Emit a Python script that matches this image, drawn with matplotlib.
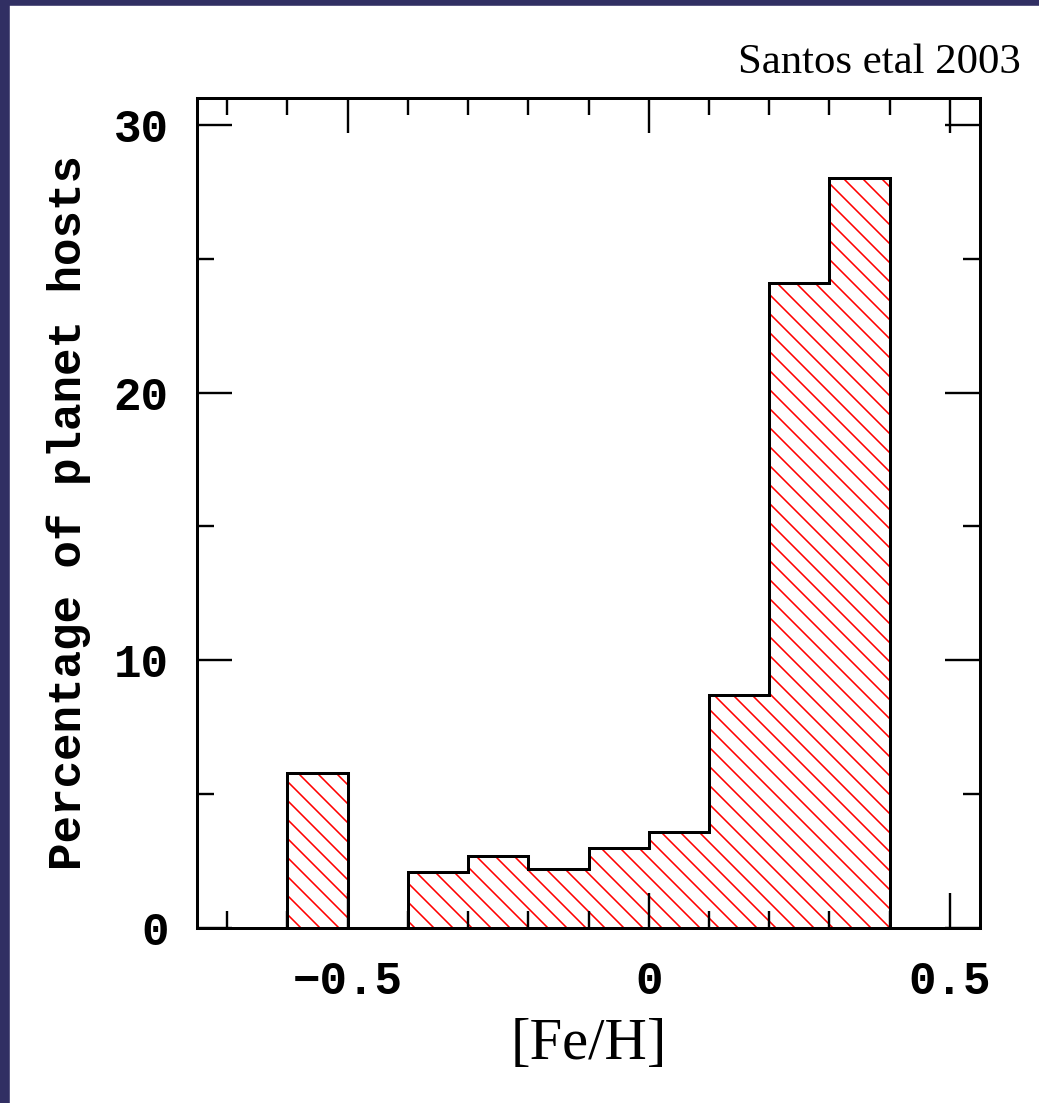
import matplotlib
matplotlib.use("Agg")
import matplotlib.pyplot as plt
from matplotlib.patches import Rectangle
from matplotlib.ticker import MultipleLocator

# histogram of planet host metallicities (Santos et al 2003)
bin_edges = [-0.6, -0.5, -0.4, -0.3, -0.2, -0.1, 0.0, 0.1, 0.2, 0.3, 0.4]
percent = [5.8, 0.0, 2.1, 2.7, 2.2, 3.0, 3.6, 8.7, 24.1, 28.0]

x_ticks = [-0.5, 0, 0.5]
x_ticklabels = ["\u22120.5", "0", "0.5"]
y_ticks = [0, 10, 20, 30]

dpi = 114
fig = plt.figure(figsize=(1039 / dpi, 1103 / dpi), dpi=dpi)
plt.rcParams["hatch.linewidth"] = 1.0

# dark frame on the left and top edge
navy = "#312f63"
fig.patches.append(Rectangle((0, 0), 9 / 1039, 1, transform=fig.transFigure,
                             color=navy, zorder=-10))
fig.patches.append(Rectangle((0, 1 - 5 / 1103), 1, 5 / 1103, transform=fig.transFigure,
                             color=navy, zorder=-10))

ax = fig.add_axes([197 / 1039, 175 / 1103, 783 / 1039, 830 / 1103])

ax.stairs(percent, bin_edges, baseline=0, fill=True, facecolor="none",
          edgecolor="red", hatch="\\\\", linewidth=0)
ax.stairs(percent, bin_edges, baseline=0, color="black", linewidth=1.9)

ax.set_xlim(-0.75, 0.55)
ax.set_ylim(0, 31)

ax.set_xticks(x_ticks)
ax.set_xticklabels(x_ticklabels)
ax.xaxis.set_minor_locator(MultipleLocator(0.1))
ax.set_yticks(y_ticks)
ax.yaxis.set_minor_locator(MultipleLocator(5))

ax.tick_params(which="both", direction="in", top=True, right=True, width=1.5,
               color="black")
ax.tick_params(which="major", length=22)
ax.tick_params(which="minor", length=11)
ax.tick_params(axis="x", which="major", pad=20)
ax.tick_params(axis="y", which="major", pad=18)
for sp in ax.spines.values():
    sp.set_linewidth(1.9)

mono = dict(family="Liberation Mono", weight="bold", size=29)
for lab in ax.get_xticklabels() + ax.get_yticklabels():
    lab.set_fontfamily("Liberation Mono")
    lab.set_fontweight("bold")
    lab.set_fontsize(29)

ax.set_ylabel("Percentage of planet hosts", fontdict=mono, labelpad=14)
ax.set_xlabel("[Fe/H]", family="Liberation Serif", size=37, labelpad=9)

fig.text(1021 / 1039, 1 - 73 / 1103, "Santos etal 2003", family="Liberation Serif",
         size=27, ha="right", va="baseline")

fig.savefig("out.png", dpi=dpi)
